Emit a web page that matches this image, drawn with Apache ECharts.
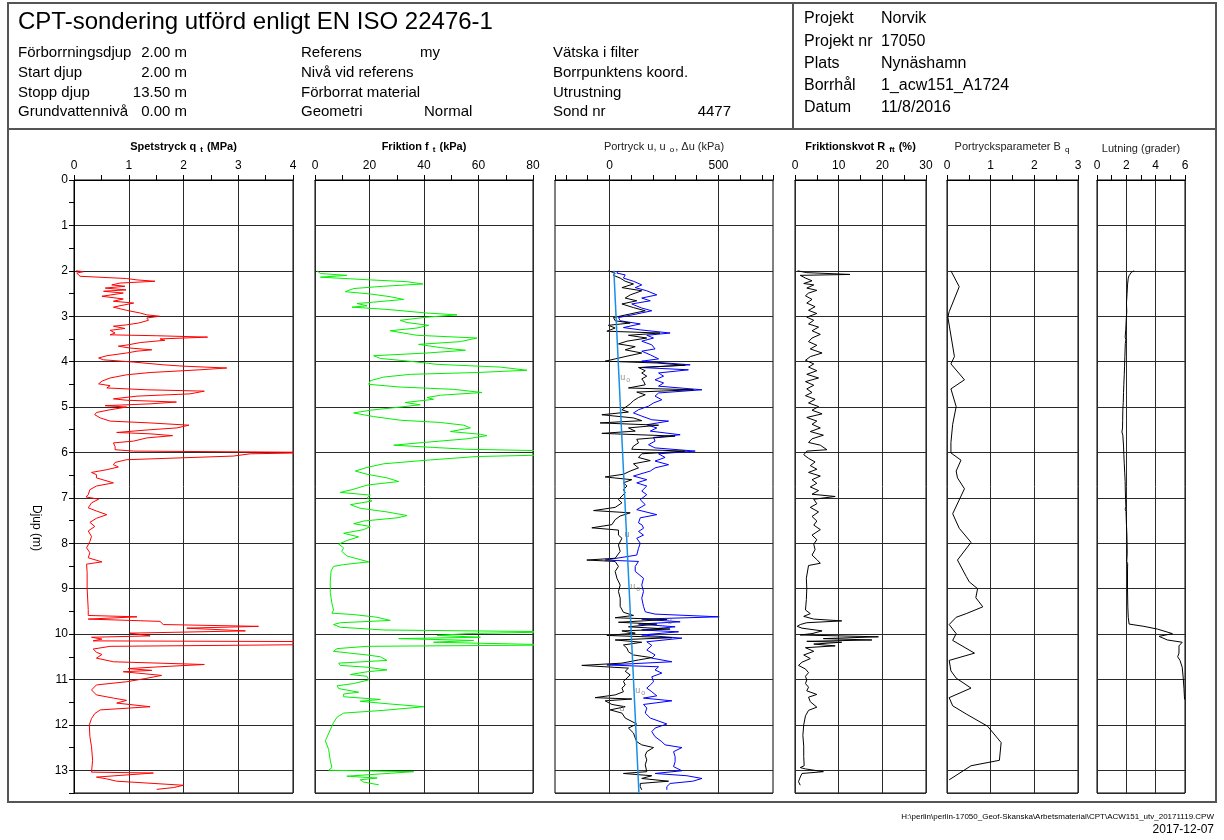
<!DOCTYPE html>
<html>
<head>
<meta charset="utf-8">
<script src="https://cdn.jsdelivr.net/npm/echarts@6/dist/echarts.min.js"></script>
<style>
  html, body { margin: 0; padding: 0; background: #fff; }
  #chart { width: 1224px; height: 840px; }
</style>
</head>
<body>
<div id="chart"></div>
<script>
// ---- Sounding data: [depth (m), value] ----
const qt = [[2.00,0.04],[2.02,0.17],[2.05,0.05],[2.12,0.11],[2.17,0.96],[2.20,1.15],[2.23,1.48],[2.27,0.84],[2.31,0.69],[2.34,0.93],[2.38,0.57],[2.42,0.95],[2.45,0.54],[2.49,0.90],[2.56,0.51],[2.62,0.90],[2.67,0.72],[2.71,1.09],[2.77,0.84],[2.80,0.72],[2.87,0.96],[2.93,1.21],[2.97,1.33],[3.00,1.56],[3.04,1.33],[3.09,1.36],[3.15,1.18],[3.19,0.96],[3.22,0.72],[3.27,0.93],[3.31,0.66],[3.37,0.75],[3.41,0.66],[3.43,1.51],[3.46,2.44],[3.50,1.57],[3.53,1.66],[3.58,1.21],[3.63,0.99],[3.66,0.81],[3.70,1.02],[3.74,1.42],[3.77,1.15],[3.81,0.96],[3.87,0.60],[3.92,0.45],[3.96,0.54],[4.01,1.09],[4.07,1.63],[4.10,2.00],[4.14,2.79],[4.18,2.30],[4.24,1.39],[4.29,0.96],[4.36,0.66],[4.43,0.51],[4.49,0.45],[4.53,0.66],[4.58,0.60],[4.62,1.33],[4.65,2.38],[4.71,2.12],[4.76,1.15],[4.82,0.72],[4.85,0.96],[4.89,1.87],[4.93,1.39],[4.97,0.57],[5.00,0.96],[5.06,0.66],[5.12,0.41],[5.17,0.38],[5.24,0.48],[5.31,0.66],[5.35,1.39],[5.40,2.10],[5.46,1.88],[5.50,1.39],[5.56,0.78],[5.59,1.39],[5.63,1.80],[5.68,1.33],[5.75,1.09],[5.79,0.72],[5.87,0.75],[5.94,0.75],[5.97,1.09],[6.00,4.60],[6.03,3.22],[6.08,2.91],[6.16,0.96],[6.22,0.75],[6.27,0.72],[6.32,0.81],[6.38,0.60],[6.44,0.32],[6.49,0.41],[6.56,0.41],[6.67,0.72],[6.74,0.41],[6.82,0.29],[6.93,0.26],[6.98,0.22],[7.03,0.45],[7.11,0.32],[7.22,0.26],[7.29,0.41],[7.37,0.60],[7.45,0.41],[7.54,0.29],[7.63,0.38],[7.73,0.26],[7.85,0.32],[7.96,0.29],[8.10,0.23],[8.21,0.29],[8.32,0.26],[8.41,0.51],[8.46,0.23],[8.65,0.24],[9.00,0.24],[9.46,0.26],[9.59,0.26],[9.62,1.15],[9.67,0.26],[9.72,1.57],[9.79,1.63],[9.83,3.37],[9.87,2.06],[9.93,3.13],[9.98,1.02],[10.04,1.39],[10.07,0.32],[10.11,0.51],[10.15,0.35],[10.17,5.50],[10.22,5.50],[10.27,0.66],[10.33,0.35],[10.40,0.41],[10.45,0.51],[10.53,0.41],[10.61,0.72],[10.67,2.38],[10.72,1.57],[10.76,0.99],[10.80,1.42],[10.83,0.90],[10.91,1.60],[10.98,1.30],[11.05,0.96],[11.12,0.41],[11.23,0.32],[11.34,0.41],[11.41,0.72],[11.46,0.96],[11.52,0.78],[11.60,1.39],[11.67,0.48],[11.75,0.38],[11.86,0.32],[12.00,0.28],[12.26,0.29],[12.48,0.32],[12.78,0.34],[13.04,0.32],[13.06,1.45],[13.15,0.41],[13.19,0.60],[13.24,0.78],[13.33,2.00],[13.38,1.82],[13.42,1.51]];

const ft = [[2.00,0.7],[2.06,2.0],[2.10,11.7],[2.14,2.0],[2.20,20.3],[2.24,33.8],[2.29,39.6],[2.34,25.2],[2.39,14.2],[2.46,11.1],[2.51,20.3],[2.57,27.6],[2.63,32.5],[2.69,21.5],[2.72,15.4],[2.77,19.1],[2.80,13.6],[2.85,26.4],[2.93,41.1],[2.97,52.1],[3.02,41.1],[3.09,31.3],[3.14,33.8],[3.20,41.7],[3.26,37.4],[3.32,27.6],[3.42,37.4],[3.48,59.4],[3.56,53.3],[3.62,38.0],[3.69,46.0],[3.75,55.2],[3.81,41.1],[3.87,21.5],[3.93,24.0],[4.00,36.2],[4.06,44.8],[4.12,68.0],[4.19,77.8],[4.24,59.4],[4.28,35.0],[4.34,25.2],[4.42,20.3],[4.50,19.7],[4.56,31.3],[4.61,50.9],[4.68,61.3],[4.74,46.0],[4.79,41.1],[4.83,43.5],[4.90,33.1],[4.95,38.6],[5.00,31.3],[5.07,20.3],[5.13,14.2],[5.21,21.5],[5.29,31.3],[5.34,46.0],[5.40,54.6],[5.46,57.0],[5.54,49.7],[5.60,60.7],[5.63,63.1],[5.70,55.8],[5.78,39.9],[5.84,28.9],[5.89,43.5],[5.93,55.8],[5.97,90],[6.05,90],[6.09,59.4],[6.17,41.1],[6.25,25.2],[6.33,19.1],[6.41,14.8],[6.48,19.1],[6.56,26.4],[6.64,30.7],[6.72,19.1],[6.82,13.6],[6.88,9.3],[6.94,20.3],[7.00,19.1],[7.07,20.9],[7.15,13.0],[7.23,16.6],[7.31,26.4],[7.39,33.8],[7.44,30.1],[7.51,17.9],[7.57,14.2],[7.63,20.3],[7.70,17.9],[7.78,10.5],[7.86,16.0],[7.94,11.7],[8.02,8.7],[8.10,10.5],[8.18,9.8],[8.28,11.7],[8.36,16.6],[8.41,19.7],[8.47,10.5],[8.51,6.8],[8.61,5.9],[8.85,5.6],[9.08,5.6],[9.32,6.2],[9.47,6.8],[9.54,6.2],[9.57,14.2],[9.63,22.8],[9.70,27.6],[9.75,9.3],[9.79,6.8],[9.85,9.3],[9.91,25.2],[9.95,90],[9.99,55.8],[10.03,44.8],[10.07,60.7],[10.10,30.7],[10.14,58.2],[10.18,43.5],[10.24,90],[10.27,19.1],[10.32,8.1],[10.38,6.8],[10.46,19.1],[10.50,24.0],[10.58,26.4],[10.64,8.7],[10.69,9.3],[10.73,19.1],[10.79,26.4],[10.83,19.1],[10.89,13.0],[10.93,19.1],[11.01,19.7],[11.09,14.2],[11.14,8.1],[11.20,8.7],[11.28,16.0],[11.32,10.5],[11.38,10.5],[11.44,24.0],[11.48,16.6],[11.54,27.6],[11.60,39.9],[11.68,25.2],[11.74,10.5],[11.83,8.1],[11.95,6.8],[12.11,5.6],[12.35,3.8],[12.54,5.0],[12.78,5.6],[12.94,6.2],[13.00,5.0],[13.03,36.2],[13.08,24.0],[13.13,11.7],[13.17,22.8],[13.21,16.6],[13.26,17.9],[13.32,23.4]];

// measured pore pressure u (kPa)
const uMeas = [[2.00,40],[2.05,34],[2.09,72],[2.16,64],[2.23,110],[2.31,148],[2.37,118],[2.44,171],[2.53,217],[2.60,148],[2.66,187],[2.73,102],[2.82,148],[2.88,194],[2.95,125],[3.03,41],[3.10,49],[3.17,141],[3.25,64],[3.30,141],[3.37,278],[3.42,171],[3.48,202],[3.55,148],[3.63,194],[3.72,209],[3.77,148],[3.85,187],[3.94,225],[3.99,148],[4.07,370],[4.13,148],[4.18,362],[4.25,225],[4.32,248],[4.40,209],[4.47,248],[4.54,225],[4.62,424],[4.69,225],[4.76,209],[4.84,240],[4.91,202],[4.98,179],[5.06,133],[5.13,110],[5.20,148],[5.28,194],[5.31,271],[5.39,171],[5.46,217],[5.53,187],[5.61,324],[5.67,202],[5.75,209],[5.83,179],[5.90,209],[5.97,393],[6.03,225],[6.11,255],[6.19,209],[6.27,271],[6.34,209],[6.41,187],[6.52,110],[6.60,171],[6.67,125],[6.74,171],[6.85,148],[6.93,171],[7.04,141],[7.15,164],[7.26,125],[7.37,217],[7.44,141],[7.55,133],[7.60,150],[7.67,156],[7.74,133],[7.82,156],[7.89,125],[8.00,141],[8.11,133],[8.26,125],[8.37,-20],[8.40,133],[8.51,118],[8.62,118],[8.77,156],[8.92,148],[9.06,156],[9.21,148],[9.39,156],[9.51,164],[9.56,209],[9.62,503],[9.67,148],[9.73,324],[9.78,133],[9.84,301],[9.91,148],[9.95,317],[10.02,148],[10.09,332],[10.17,171],[10.25,194],[10.35,171],[10.46,209],[10.53,194],[10.61,286],[10.68,-12],[10.72,225],[10.79,209],[10.86,240],[10.94,194],[11.05,202],[11.12,187],[11.19,171],[11.27,194],[11.36,217],[11.41,156],[11.47,286],[11.55,156],[11.63,171],[11.74,164],[11.85,187],[11.98,263],[12.07,209],[12.15,194],[12.26,209],[12.37,240],[12.44,255],[12.50,332],[12.59,294],[12.70,301],[12.81,301],[12.92,294],[13.01,332],[13.07,209],[13.12,355],[13.18,424],[13.24,382],[13.29,278],[13.36,263],[13.43,263]];

// excess pore pressure Δu (kPa)
const uExcess = [[2.00,-5],[2.05,26],[2.10,18],[2.16,49],[2.23,72],[2.29,110],[2.37,57],[2.44,148],[2.53,95],[2.60,72],[2.66,125],[2.73,57],[2.81,110],[2.88,164],[2.95,95],[3.03,18],[3.10,26],[3.15,95],[3.20,-5],[3.26,26],[3.33,-12],[3.37,232],[3.42,87],[3.48,171],[3.55,80],[3.61,41],[3.67,118],[3.74,72],[3.81,148],[3.88,80],[3.94,26],[3.99,-20],[4.03,217],[4.08,347],[4.13,133],[4.20,164],[4.25,148],[4.32,171],[4.38,148],[4.43,156],[4.51,164],[4.58,87],[4.62,385],[4.67,125],[4.73,164],[4.79,133],[4.86,110],[4.93,95],[5.01,72],[5.06,57],[5.11,87],[5.17,-35],[5.24,110],[5.30,148],[5.35,-43],[5.40,225],[5.46,87],[5.53,118],[5.58,-35],[5.64,301],[5.71,125],[5.79,133],[5.86,110],[5.93,102],[5.97,347],[6.03,148],[6.11,133],[6.18,187],[6.25,110],[6.34,133],[6.41,95],[6.48,64],[6.54,-20],[6.60,102],[6.67,64],[6.74,80],[6.82,64],[6.89,72],[6.96,57],[7.04,41],[7.11,57],[7.21,26],[7.28,-73],[7.33,95],[7.40,49],[7.48,26],[7.59,11],[7.66,-81],[7.71,41],[7.82,41],[7.89,57],[8.04,41],[8.18,49],[8.33,26],[8.37,-104],[8.40,26],[8.51,41],[8.62,26],[8.77,34],[8.92,49],[9.06,41],[9.21,49],[9.39,49],[9.52,64],[9.59,110],[9.64,26],[9.68,263],[9.74,41],[9.78,217],[9.84,87],[9.89,278],[9.93,57],[9.98,118],[10.03,-12],[10.08,286],[10.13,26],[10.18,148],[10.24,64],[10.31,80],[10.39,87],[10.46,110],[10.52,194],[10.57,133],[10.64,57],[10.69,-127],[10.75,87],[10.82,72],[10.90,95],[10.97,80],[11.04,64],[11.12,72],[11.19,57],[11.27,64],[11.34,26],[11.40,-66],[11.43,102],[11.47,-20],[11.55,11],[11.60,72],[11.67,3],[11.74,57],[11.85,72],[11.98,125],[12.07,87],[12.18,110],[12.29,118],[12.37,125],[12.44,148],[12.50,202],[12.59,171],[12.67,164],[12.77,171],[12.88,164],[13.03,171],[13.07,64],[13.12,194],[13.18,148],[13.24,271],[13.29,141],[13.36,141],[13.43,148]];

// hydrostatic pore pressure u0 (kPa)
const uHydro = [[2.00,20],[13.50,135]];

// small u / u0 tags along the pore pressure curves: [depth, kPa, subscript]
const uTags = [[4.36,72,'o'],[7.80,80,''],[8.95,118,'o'],[9.73,275,''],[11.25,141,'o'],[11.63,57,'']];

const rft = [[2.00,0.6],[2.02,0.3],[2.04,2.7],[2.08,12.6],[2.10,1.2],[2.16,2.4],[2.22,3.9],[2.28,2.0],[2.31,4.3],[2.38,2.7],[2.43,5.0],[2.49,3.1],[2.55,2.4],[2.63,3.9],[2.71,2.7],[2.79,4.6],[2.87,3.1],[2.94,5.0],[3.02,2.7],[3.09,4.3],[3.17,3.1],[3.24,5.4],[3.32,3.9],[3.40,5.8],[3.48,3.9],[3.56,3.1],[3.64,5.0],[3.72,3.5],[3.81,6.2],[3.89,3.5],[3.97,2.4],[4.05,4.3],[4.12,3.1],[4.20,5.0],[4.28,2.7],[4.36,5.4],[4.44,2.4],[4.52,4.3],[4.60,2.7],[4.68,3.9],[4.75,2.4],[4.83,4.6],[4.91,3.1],[4.99,5.4],[5.07,3.9],[5.15,6.2],[5.23,2.7],[5.31,5.0],[5.38,3.9],[5.46,5.8],[5.54,3.5],[5.62,6.5],[5.70,3.9],[5.78,3.1],[5.84,5.8],[5.94,7.3],[5.97,2.7],[6.05,2.0],[6.13,3.1],[6.21,4.6],[6.29,3.5],[6.37,5.0],[6.44,3.1],[6.52,5.8],[6.60,3.9],[6.68,5.0],[6.76,3.5],[6.84,5.4],[6.92,3.9],[6.97,9.2],[7.03,4.3],[7.13,5.0],[7.21,3.5],[7.31,5.4],[7.41,3.9],[7.51,5.0],[7.60,4.3],[7.70,5.8],[7.82,3.9],[7.92,5.0],[8.02,4.3],[8.14,4.6],[8.26,3.9],[8.36,5.0],[8.44,5.8],[8.49,3.1],[8.53,2.7],[8.77,2.6],[9.00,2.7],[9.24,2.6],[9.47,2.4],[9.55,3.5],[9.61,2.0],[9.67,4.3],[9.71,10.7],[9.75,2.7],[9.79,1.2],[9.83,0.5],[9.87,1.6],[9.93,6.2],[9.99,3.9],[10.02,1.2],[10.06,19.1],[10.10,6.5],[10.13,17.6],[10.16,2.7],[10.18,10.7],[10.22,4.3],[10.26,9.2],[10.30,2.4],[10.38,4.3],[10.46,2.0],[10.54,3.5],[10.62,1.6],[10.69,0.8],[10.77,2.4],[10.85,3.1],[10.93,2.4],[11.01,2.7],[11.09,2.4],[11.17,3.1],[11.25,2.7],[11.33,5.0],[11.39,3.1],[11.49,3.5],[11.61,5.0],[11.68,3.1],[11.80,2.4],[12.00,2.0],[12.23,1.8],[12.47,2.0],[12.70,2.0],[12.90,2.1],[12.94,1.2],[12.97,2.4],[13.03,6.5],[13.07,1.6],[13.15,1.2],[13.25,0.8],[13.33,1.2]];

const bq = [[2.00,0.09],[2.35,0.28],[2.90,0.05],[3.02,0.02],[3.89,0.17],[4.05,0.09],[4.40,0.40],[4.60,0.09],[4.99,0.21],[5.38,0.13],[5.78,0.09],[6.01,0.09],[6.17,0.32],[6.41,0.21],[6.56,0.24],[6.80,0.40],[7.35,0.13],[7.67,0.28],[7.98,0.55],[8.37,0.24],[8.73,0.44],[8.85,0.51],[9.00,0.70],[9.20,0.66],[9.40,0.82],[9.55,0.44],[9.63,0.21],[9.79,0.05],[9.99,0.21],[10.14,0.13],[10.42,0.63],[10.58,0.05],[10.81,0.09],[10.97,0.21],[11.19,0.55],[11.40,0.05],[11.58,0.13],[11.76,0.44],[12.03,0.93],[12.39,1.24],[12.78,1.20],[12.90,0.55],[13.21,0.05]];

const incl = [[2.00,2.53],[2.03,2.35],[2.06,2.26],[2.11,2.18],[2.16,2.13],[2.31,2.08],[2.50,2.05],[2.71,2.01],[2.90,2.03],[3.10,1.99],[3.30,1.96],[3.46,1.92],[3.52,1.97],[3.60,1.93],[3.89,1.90],[4.10,1.88],[4.28,1.86],[4.50,1.83],[4.68,1.81],[4.90,1.79],[5.07,1.76],[5.30,1.75],[5.46,1.74],[5.55,1.70],[5.62,1.76],[5.86,1.81],[6.05,1.83],[6.25,1.86],[6.45,1.89],[6.64,1.92],[6.85,1.93],[7.04,1.95],[7.20,1.97],[7.25,1.92],[7.30,1.98],[7.43,1.99],[7.60,2.01],[7.82,2.04],[8.00,2.05],[8.22,2.06],[8.40,2.03],[8.45,2.09],[8.61,2.08],[9.00,2.08],[9.40,2.10],[9.63,2.13],[9.78,2.19],[9.83,3.20],[9.89,4.12],[9.99,5.14],[10.05,4.23],[10.13,4.80],[10.18,5.81],[10.26,5.59],[10.42,5.59],[10.50,5.50],[10.58,5.66],[10.73,5.81],[10.97,5.88],[11.20,5.93],[11.44,5.97]];

// ---- Report header text ----
const titleText = 'CPT-sondering utförd enligt EN ISO 22476-1';
const infoCol1 = [['Förborrningsdjup','2.00 m'],['Start djup','2.00 m'],['Stopp djup','13.50 m'],['Grundvattennivå','0.00 m']];
const infoCol2 = [['Referens','my'],['Nivå vid referens',''],['Förborrat material',''],['Geometri','Normal']];
const infoCol3 = [['Vätska i filter',''],['Borrpunktens koord.',''],['Utrustning',''],['Sond nr','4477']];
const projectInfo = [['Projekt','Norvik'],['Projekt nr','17050'],['Plats','Nynäshamn'],['Borrhål','1_acw151_A1724'],['Datum','11/8/2016']];
const filePath = 'H:\\perlin\\perlin-17050_Geof-Skanska\\Arbetsmaterial\\CPT\\ACW151_utv_20171119.CPW';
const printDate = '2017-12-07';

// ---- Layout ----
const FONT = '"Liberation Sans", Arial, sans-serif';
const PLOT_TOP = 180, PLOT_H = 613, DEPTH_MAX = 13.5;
const panels = [
  { left: 74,   width: 219 },
  { left: 315,  width: 218 },
  { left: 555,  width: 218 },
  { left: 795,  width: 131 },
  { left: 947,  width: 131 },
  { left: 1097, width: 88 }
];

const grids = panels.map(p => ({
  left: p.left, top: PLOT_TOP, width: p.width, height: PLOT_H,
  show: true, borderColor: '#000', borderWidth: 1, backgroundColor: 'transparent'
}));

const lineCol = '#2a2a2a';
const subStyle = (bold) => ({ fontSize: 8, fontWeight: bold ? 'bold' : 'normal', color: '#000', padding: [7, 1, 0, 1], fontFamily: FONT });

function topAxis(gi, opts) {
  return Object.assign({
    gridIndex: gi, type: 'value', position: 'top',
    nameLocation: 'middle', nameGap: 26, nameMoveOverlap: false,
    axisLine: { show: true, onZero: false, lineStyle: { color: '#000', width: 1 } },
    axisTick: { show: true, inside: false, length: 5, lineStyle: { color: '#000' } },
    minorTick: { show: true, splitNumber: 2, length: 5, lineStyle: { color: '#000' } },
    axisLabel: { fontSize: 12, color: '#000', margin: 8, fontFamily: FONT },
    splitLine: { show: true, lineStyle: { color: lineCol, width: 1 } },
    nameTextStyle: { fontSize: 11, color: '#000', fontFamily: FONT }
  }, opts);
}

const xAxes = [
  topAxis(0, { min: 0, max: 4, interval: 1, name: 'Spetstryck q {sub|t} (MPa)',
    nameTextStyle: { fontSize: 11, fontWeight: 'bold', color: '#000', fontFamily: FONT, rich: { sub: subStyle(true) } } }),
  topAxis(1, { min: 0, max: 80, interval: 20, name: 'Friktion f {sub|t} (kPa)',
    nameTextStyle: { fontSize: 11, fontWeight: 'bold', color: '#000', fontFamily: FONT, rich: { sub: subStyle(true) } } }),
  topAxis(2, { min: -250, max: 750, splitNumber: 10,
    minorTick: { show: false },
    splitLine: { show: false },
    axisLabel: { fontSize: 12, color: '#000', margin: 8, fontFamily: FONT,
      formatter: v => (v === 0 || v === 500) ? String(v) : '' },
    name: 'Portryck u, u {sub|o}, Δu (kPa)',
    nameTextStyle: { fontSize: 11, color: '#222', fontFamily: FONT, rich: { sub: subStyle(false) } } }),
  topAxis(3, { min: 0, max: 30, interval: 10, name: 'Friktionskvot R {sub|ft} (%)',
    nameTextStyle: { fontSize: 11, fontWeight: 'bold', color: '#000', fontFamily: FONT, rich: { sub: subStyle(true) } } }),
  topAxis(4, { min: 0, max: 3, interval: 1, name: 'Portrycksparameter B {sub|q}',
    nameTextStyle: { fontSize: 11, color: '#222', fontFamily: FONT, rich: { sub: subStyle(false) } } }),
  topAxis(5, { min: 0, max: 6, interval: 2, name: 'Lutning (grader)',
    nameTextStyle: { fontSize: 11, color: '#222', fontFamily: FONT } })
];

const yAxes = panels.map((p, i) => ({
  gridIndex: i, type: 'value', inverse: true, min: 0, max: DEPTH_MAX, interval: 1,
  axisLine: { show: i === 0, onZero: false, lineStyle: { color: '#000' } },
  axisTick: { show: i === 0, length: 5, lineStyle: { color: '#000' } },
  minorTick: { show: i === 0, splitNumber: 2, length: 5, lineStyle: { color: '#000' } },
  axisLabel: { show: i === 0, fontSize: 12, color: '#000', margin: 6, fontFamily: FONT,
    showMaxLabel: false, formatter: v => Number.isInteger(v) ? String(v) : '' },
  splitLine: { show: true, lineStyle: { color: lineCol, width: 1 } }
}));

// depth pairs -> [value, depth] points for the value/depth axes
const pts = arr => arr.map(([d, v]) => [v, d]);

function trace(name, gi, data, color, extra) {
  return Object.assign({
    name, type: 'line', xAxisIndex: gi, yAxisIndex: gi, data: pts(data),
    showSymbol: false, symbol: 'none', clip: true, silent: true, animation: false,
    lineStyle: { color, width: 1 }, z: 3
  }, extra || {});
}

const series = [
  trace('qt', 0, qt, '#ff0000'),
  trace('ft', 1, ft, '#00f000'),
  trace('u', 2, uMeas, '#0000ff'),
  trace('du', 2, uExcess, '#000000', { z: 4 }),
  trace('u0', 2, uHydro, '#1a8fe6', { z: 5, lineStyle: { color: '#1a8fe6', width: 1.5 },
    markLine: {
      silent: true, symbol: ['none', 'none'], label: { show: false }, animation: false,
      lineStyle: { color: lineCol, width: 1, type: 'solid' },
      data: [{ xAxis: 0 }, { xAxis: 500 }]
    } }),
  {
    name: 'tags', type: 'scatter', xAxisIndex: 2, yAxisIndex: 2, silent: true, animation: false,
    symbolSize: 1, itemStyle: { color: 'rgba(0,0,0,0)' }, z: 6,
    data: uTags.map(([d, v, s]) => ({ value: [v, d], sub: s })),
    label: {
      show: true, position: 'inside', fontSize: 9, color: '#777', fontFamily: FONT,
      formatter: p => p.data.sub ? 'u{s|' + p.data.sub + '}' : 'u',
      rich: { s: { fontSize: 7, color: '#777', padding: [5, 0, 0, 1] } }
    }
  },
  trace('Rf', 3, rft, '#000000'),
  trace('Bq', 4, bq, '#000000'),
  trace('incl', 5, incl, '#000000')
];

// ---- Header / frame graphics ----
const frameCol = '#555';
const g = [];
g.push({ type: 'rect', shape: { x: 8, y: 3, width: 1208, height: 799 }, style: { fill: 'none', stroke: frameCol, lineWidth: 2 }, silent: true });
g.push({ type: 'line', shape: { x1: 8, y1: 129, x2: 1216, y2: 129 }, style: { stroke: frameCol, lineWidth: 2 }, silent: true });
g.push({ type: 'line', shape: { x1: 793, y1: 3, x2: 793, y2: 129 }, style: { stroke: frameCol, lineWidth: 2 }, silent: true });

function txt(x, y, text, size, align, extra) {
  return Object.assign({
    type: 'text', x, y, silent: true,
    style: { text, fill: '#000', fontSize: size, fontFamily: FONT, align: align || 'left', verticalAlign: 'middle' }
  }, extra || {});
}

g.push(txt(18, 22, titleText, 24));
const rowY = [53, 73, 93, 112];
infoCol1.forEach(([k, v], i) => { g.push(txt(18, rowY[i], k, 15)); g.push(txt(187, rowY[i], v, 15, 'right')); });
infoCol2.forEach(([k, v], i) => { g.push(txt(301, rowY[i], k, 15)); if (v) g.push(txt(i === 0 ? 420 : 424, rowY[i], v, 15)); });
infoCol3.forEach(([k, v], i) => { g.push(txt(553, rowY[i], k, 15)); if (v) g.push(txt(731, rowY[i], v, 15, 'right')); });
const projY = [19, 42, 64, 86, 108];
projectInfo.forEach(([k, v], i) => { g.push(txt(804, projY[i], k, 16)); g.push(txt(881, projY[i], v, 16)); });

g.push(txt(36, 528, 'Djup (m)', 12, 'center', { rotation: -Math.PI / 2 }));
g.push(txt(1214, 817, filePath, 8, 'right'));
g.push(txt(1214, 830, printDate, 12, 'right'));

const chart = echarts.init(document.getElementById('chart'), null, { renderer: 'canvas' });
chart.setOption({
  animation: false,
  backgroundColor: '#fff',
  textStyle: { fontFamily: FONT },
  grid: grids,
  xAxis: xAxes,
  yAxis: yAxes,
  series,
  graphic: g
});
</script>
</body>
</html>
